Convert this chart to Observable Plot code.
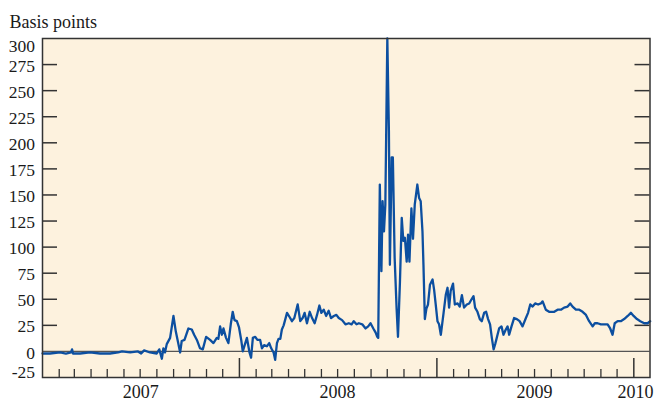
<!DOCTYPE html>
<html><head><meta charset="utf-8">
<script src="https://cdn.jsdelivr.net/npm/d3@7"></script>
<script src="https://cdn.jsdelivr.net/npm/@observablehq/plot@0.6"></script>
<style>body{margin:0;background:#fff;}</style>
</head><body><div id="chart"></div>
<script>
const title = "Basis points";
const yTicks = [-25, 0, 25, 50, 75, 100, 125, 150, 175, 200, 225, 250, 275, 300];
const yTickLabels = ["-25", "0", "25", "50", "75", "100", "125", "150", "175", "200", "225", "250", "275", "300"];
const yearLabels = ["2007", "2008", "2009", "2010"];
const yearLabelDates = ["2007-07-02", "2008-07-01", "2009-07-01", "2010-01-04"];

// [decimal year, basis points]
const s2007 = [[2007.000,-2],[2007.038,-2],[2007.089,-1],[2007.119,-2],[2007.145,-1],[2007.150,2],[2007.155,-2],[2007.191,-2],[2007.241,-1],[2007.292,-2],[2007.343,-2],[2007.384,-1],[2007.404,0],[2007.445,-1],[2007.485,0],[2007.501,-2],[2007.516,1],[2007.546,-1],[2007.580,-2],[2007.593,2],[2007.606,-7],[2007.614,3],[2007.622,-1],[2007.631,7],[2007.648,13],[2007.665,34],[2007.677,19],[2007.687,10],[2007.699,-1],[2007.707,10],[2007.721,11],[2007.741,22],[2007.758,21],[2007.770,16],[2007.784,11],[2007.800,3],[2007.814,2],[2007.831,14],[2007.851,11],[2007.868,8],[2007.885,13],[2007.893,12],[2007.902,24],[2007.911,16],[2007.919,22],[2007.932,13],[2007.944,8],[2007.956,26],[2007.966,38],[2007.975,30],[2007.987,29],[2007.998,23]];
const s2008 = [[2008.009,11],[2008.017,0],[2008.025,5],[2008.038,13],[2008.051,-1],[2008.059,-6],[2008.068,13],[2008.080,14],[2008.091,11],[2008.105,11],[2008.114,3],[2008.125,6],[2008.139,5],[2008.151,8],[2008.161,3],[2008.173,-1],[2008.181,-8],[2008.190,8],[2008.198,12],[2008.207,12],[2008.215,21],[2008.224,25],[2008.241,37],[2008.254,33],[2008.266,29],[2008.278,32],[2008.295,45],[2008.308,29],[2008.320,32],[2008.330,37],[2008.342,27],[2008.356,38],[2008.368,32],[2008.381,27],[2008.393,35],[2008.405,44],[2008.415,37],[2008.427,40],[2008.439,34],[2008.452,39],[2008.464,32],[2008.478,34],[2008.491,35],[2008.503,32],[2008.520,30],[2008.537,26],[2008.554,27],[2008.568,26],[2008.579,29],[2008.593,26],[2008.605,27],[2008.622,26],[2008.639,22],[2008.652,24],[2008.664,27],[2008.678,22],[2008.690,18],[2008.698,14],[2008.703,13],[2008.711,160],[2008.719,77],[2008.725,144],[2008.732,115],[2008.739,141],[2008.749,300],[2008.757,211],[2008.762,83],[2008.771,186],[2008.777,186],[2008.786,90],[2008.796,41],[2008.803,14],[2008.813,67],[2008.822,128],[2008.830,106],[2008.838,109],[2008.847,86],[2008.854,112],[2008.861,86],[2008.871,137],[2008.879,108],[2008.888,141],[2008.901,160],[2008.910,147],[2008.918,144],[2008.927,115],[2008.932,83],[2008.939,31],[2008.947,41],[2008.955,45],[2008.965,64],[2008.978,69],[2008.986,59],[2008.994,45]];
const s2009 = [[2009.003,29],[2009.011,26],[2009.020,16],[2009.034,37],[2009.045,54],[2009.054,61],[2009.062,42],[2009.070,58],[2009.082,65],[2009.091,45],[2009.105,46],[2009.116,43],[2009.127,54],[2009.138,42],[2009.152,45],[2009.164,46],[2009.176,50],[2009.186,53],[2009.194,42],[2009.206,38],[2009.218,31],[2009.228,29],[2009.240,37],[2009.250,38],[2009.260,31],[2009.270,26],[2009.279,13],[2009.288,2],[2009.296,7],[2009.304,13],[2009.316,22],[2009.328,24],[2009.338,16],[2009.350,21],[2009.359,24],[2009.367,16],[2009.379,24],[2009.392,32],[2009.406,31],[2009.420,29],[2009.435,24],[2009.452,32],[2009.463,37],[2009.474,45],[2009.486,43],[2009.499,46],[2009.514,45],[2009.528,46],[2009.537,48],[2009.553,40],[2009.570,38],[2009.596,38],[2009.613,40],[2009.630,40],[2009.646,42],[2009.664,43],[2009.677,46],[2009.689,43],[2009.706,40],[2009.723,40],[2009.740,38],[2009.757,35],[2009.773,29],[2009.791,24],[2009.802,27],[2009.816,27],[2009.833,26],[2009.850,26],[2009.867,26],[2009.880,22],[2009.892,16],[2009.903,27],[2009.918,29],[2009.934,29],[2009.951,31],[2009.969,34],[2009.985,37],[2009.999,34]];
const s2010 = [[2010.016,31],[2010.033,29],[2010.053,27],[2010.070,27],[2010.083,29]];

function toDate(t) {
  const y = Math.floor(t);
  const a = Date.UTC(y, 0, 1), b = Date.UTC(y + 1, 0, 1);
  return new Date(a + (t - y) * (b - a));
}
const data = [...s2007, ...s2008, ...s2009, ...s2010].map(([t, v]) => ({date: toDate(t), value: v}));

const W = 658, Hh = 405, mL = 42, mR = 8.5, mT = 38, mB = 28;
const FW = W - mL - mR, FH = Hh - mT - mB;
const start = new Date(Date.UTC(2007, 0, 1)), end = new Date(Date.UTC(2010, 0, 31));
const minorTicks = d3.utcMonth.range(start, end).filter(d => d.getUTCMonth() !== 0);
const majorTicks = d3.utcYear.range(new Date(Date.UTC(2007, 0, 2)), end);
const yLab = yTicks.map((v, i) => ({v, label: yTickLabels[i]}));
const innerTicks = yTicks.filter(v => v > 0 && v < 300);
const xLab = yearLabels.map((l, i) => ({label: l, date: new Date(yearLabelDates[i])}));

const font = "Liberation Serif, Times New Roman, serif";
const ink = "#333";
const txt = "#1a1a1a";

const chart = Plot.plot({
  width: W, height: Hh,
  marginLeft: mL, marginRight: mR, marginTop: mT, marginBottom: mB,
  style: {fontFamily: font, background: "#fff", color: txt},
  x: {type: "utc", domain: [start, end], axis: null},
  y: {domain: [-25, 300], axis: null},
  marks: [
    Plot.frame({fill: "#fdf2de", stroke: null}),
    Plot.ruleY([0], {stroke: "#555", strokeWidth: 1.3}),
    Plot.tickY(innerTicks, {y: d => d, insetRight: FW - 15, stroke: ink, strokeWidth: 1.5}),
    Plot.tickY(innerTicks, {y: d => d, insetLeft: FW - 15, stroke: ink, strokeWidth: 1.5}),
    Plot.tickX(minorTicks, {x: d => d, insetTop: FH - 8, stroke: ink, strokeWidth: 1.3}),
    Plot.tickX(majorTicks, {x: d => d, insetTop: FH - 19, stroke: ink, strokeWidth: 1.5}),
    Plot.line(data, {x: "date", y: "value", stroke: "#0c4fa0", strokeWidth: 2.3, strokeLinejoin: "round"}),
    Plot.frame({stroke: ink, strokeWidth: 1.5}),
    Plot.text(yLab.filter(d => d.v > -25 && d.v < 300), {y: "v", text: "label", frameAnchor: "left", dx: -7.5, dy: 1.5, textAnchor: "end", fontSize: 17.5, fill: txt}),
    Plot.text(yLab.filter(d => d.v === 300), {y: "v", text: "label", frameAnchor: "left", dx: -7.5, dy: 7.5, textAnchor: "end", fontSize: 17.5, fill: txt}),
    Plot.text(yLab.filter(d => d.v === -25), {y: "v", text: "label", frameAnchor: "left", dx: -7.5, dy: -5.5, textAnchor: "end", fontSize: 17.5, fill: txt}),
    Plot.text(xLab, {x: "date", text: "label", frameAnchor: "bottom", dy: 20, fontSize: 18, fill: txt}),
    Plot.text([title], {text: d => d, frameAnchor: "top-left", dx: -33, dy: -11, textAnchor: "start", lineAnchor: "bottom", fontSize: 18, fill: txt})
  ]
});
document.getElementById("chart").appendChild(chart);
</script>
</body></html>
